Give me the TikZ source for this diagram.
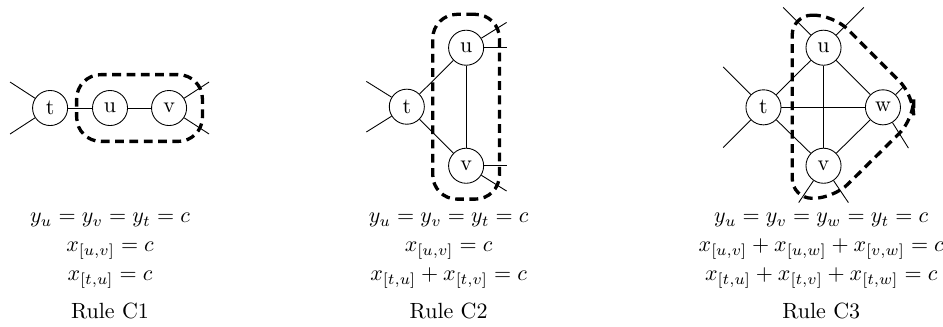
\documentclass[tikz,border=0pt]{standalone}
\usepackage{amsmath}
\usetikzlibrary{positioning, fit, calc}

\begin{document}
\begin{tikzpicture}[
  every node/.style={font=\normalsize},
  vtx/.style={draw, circle, thin, minimum size=0.56cm, inner sep=0pt},
  lnk/.style={thin},
  grp/.style={draw, line width=1.5pt, dash pattern=on 4pt off 2.5pt,
              rounded corners=11pt},
  eqs/.style={align=center, inner sep=0pt, anchor=north},
]
  \useasboundingbox (0,0) rectangle (15.06,-5.208);

  % Rule C1
  \node[vtx] (t1) at (0.80,-1.725)  {t};
  \node[vtx] (u1) at (1.757,-1.725) {u};
  \node[vtx] (v1) at (2.70,-1.725)  {v};
  \draw[lnk] (t1) -- (u1);
  \draw[lnk] (u1) -- (v1);
  \node[grp, fit=(u1)(v1), inner sep=7pt] (g1) {};
  \node[eqs] (r1) at (1.757,-3.40) {
    $y_u = y_v = y_t = c$\\[1pt]
    $x_{[u,v]} = c$\\[1pt]
    $x_{[t,u]} = c$\\[5.5pt]
    Rule C1
  };

  % Rule C2
  \node[vtx] (t2) at (6.497,-1.704) {t};
  \node[vtx] (u2) at (7.444,-0.762) {u};
  \node[vtx] (v2) at (7.444,-2.647) {v};
  \draw[lnk] (t2) -- (u2);
  \draw[lnk] (t2) -- (v2);
  \draw[lnk] (u2) -- (v2);
  \node[grp, fit=(u2)(v2), inner sep=7pt] (g2) {};
  \node[eqs] (r2) at (7.165,-3.40) {
    $y_u = y_v = y_t = c$\\[1pt]
    $x_{[u,v]} = c$\\[1pt]
    $x_{[t,u]} + x_{[t,v]} = c$\\[5.5pt]
    Rule C2
  };

  % Rule C3
  \node[vtx] (t3) at (12.193,-1.714) {t};
  \node[vtx] (u3) at (13.152,-0.762) {u};
  \node[vtx] (w3) at (14.101,-1.714) {w};
  \node[vtx] (v3) at (13.152,-2.647) {v};
  \foreach \a/\b in {t3/u3, t3/v3, t3/w3, u3/v3, u3/w3, v3/w3}
    \draw[lnk] (\a) -- (\b);
  \draw[grp, rounded corners=9pt]
    ($(u3)+(-0.50,0.52)$) -- ($(u3)+(0.16,0.52)$)
    -- ($(w3)+(0.49,0.19)$) -- ($(w3)+(0.49,-0.19)$)
    -- ($(v3)+(0.16,-0.52)$) -- ($(v3)+(-0.50,-0.52)$) -- cycle;
  \node[eqs] (r3) at (13.115,-3.40) {
    $y_u = y_v = y_w = y_t = c$\\[1pt]
    $x_{[u,v]} + x_{[u,w]} + x_{[v,w]} = c$\\[1pt]
    $x_{[t,u]} + x_{[t,v]} + x_{[t,w]} = c$\\[5.5pt]
    Rule C3
  };

  % loose edge ends
  \foreach \n/\a/\l in {t1/147/0.762, t1/213/0.762, v1/33/0.762, v1/327/0.762,
                        t2/148/0.762, t2/212/0.762, u2/32/0.762, u2/0/0.65,
                        v2/0/0.65, v2/328/0.762,
                        t3/135/0.91, t3/225/0.91, u3/45/0.91, u3/135/0.91,
                        v3/236/0.71, v3/304/0.71, w3/45/0.495, w3/302/0.767} {
    \coordinate (\n e\a) at ($(\n)+(\a:\l)$);
    \draw[lnk] (\n) -- (\n e\a);
  }
\end{tikzpicture}
\end{document}
